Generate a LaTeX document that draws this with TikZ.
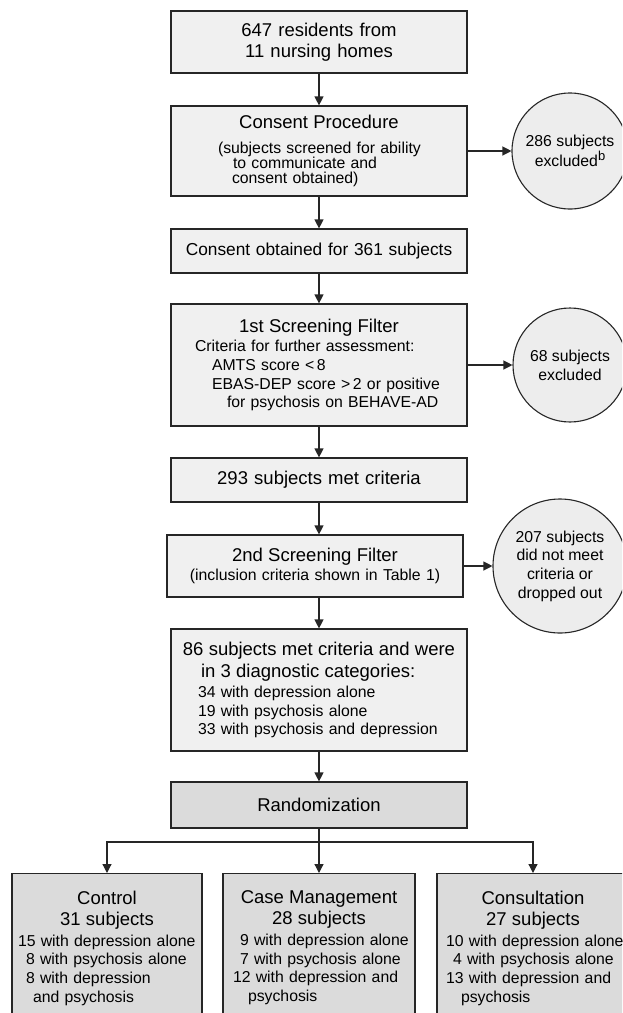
\documentclass[tikz,border=0pt]{standalone}
\usepackage{fontspec}
\setmainfont{Liberation Sans}
\usetikzlibrary{arrows.meta}

\newcommand{\bigtxt}{\fontsize{18.5}{22}\selectfont}
\newcommand{\smalltxt}{\fontsize{15.8}{18.7}\selectfont}
\newcommand{\midline}[1]{\makebox[\linewidth]{#1}}

\tikzset{
  flowbox/.style={draw=black!85, line width=1.2pt, fill=black!6, inner xsep=0pt, inner ysep=0pt, text width=#1, font=\smalltxt},
  flowbox/.default=296pt,
  darkbox/.style={flowbox=#1, fill=black!14},
  darkbox/.default=296pt,
  exclcircle/.style={circle, draw=black!85, line width=1.1pt, fill=black!7, inner sep=0pt, minimum size=#1, align=center, font=\smalltxt},
  link/.style={draw=black!85, line width=1.2pt},
  arr/.style={link, -{Triangle[length=9pt,width=9pt]}}
}

\begin{document}
\begin{tikzpicture}[x=1pt, y=-1pt]
    \clip (0,0) rectangle (622,1013);
    \node[flowbox, align=center, font=\fontsize{18.5}{21}\selectfont, minimum height=62pt] (homes) at (319,42) {647 residents from\\ 11 nursing homes};
    \node[flowbox, align=left, minimum height=90pt, font=\fontsize{15.8}{15.3}\selectfont] (consent) at (319,151) {\midline{\bigtxt Consent Procedure}\\[9.5pt]
      \hspace*{47pt}(subjects screened for ability\\
      \hspace*{62pt}to communicate and\\
      \hspace*{61pt}consent obtained)};
    \node[exclcircle=116pt, font=\fontsize{15.8}{16}\selectfont] (excl1) at (570,151) {286 subjects\\ excluded\raisebox{6pt}{\fontsize{13}{13}\selectfont b}};
    \node[flowbox, align=center, font=\fontsize{17.3}{20}\selectfont, minimum height=44pt] (obtained) at (319,251) {Consent obtained for 361 subjects};
    \node[flowbox, align=left, minimum height=122pt] (filter1) at (319,365) {\midline{\bigtxt 1st Screening Filter}\\[1pt]
      \hspace*{24pt}Criteria for further assessment:\\
      \hspace*{41pt}AMTS score <\,8\\
      \hspace*{41pt}EBAS-DEP score >\,2 or positive\\
      \hspace*{56pt}for psychosis on BEHAVE-AD};
    \node[exclcircle=114pt, font=\fontsize{15.8}{19}\selectfont] (excl2) at (570,365) {68 subjects\\ excluded};
    \node[flowbox, align=center, font=\bigtxt, minimum height=44pt] (met1) at (319,480) {293 subjects met criteria};
    \node[flowbox, align=center, minimum height=62pt] (filter2) at (315,566) {{\bigtxt 2nd Screening Filter}\\ (inclusion criteria shown in Table 1)};
    \node[exclcircle=134pt] (excl3) at (560,566) {207 subjects\\ did not meet\\ criteria or\\ dropped out};
    \node[flowbox, align=left, minimum height=122pt] (met2) at (319,690) {\midline{\bigtxt 86 subjects met criteria and were}\\[3.3pt]
      \hspace*{30pt}{\bigtxt in 3 diagnostic categories:}\\[1.3pt]
      \hspace*{27pt}34 with depression alone\\
      \hspace*{27pt}19 with psychosis alone\\
      \hspace*{27pt}33 with psychosis and depression};
    \node[darkbox, align=center, font=\bigtxt, minimum height=46pt] (random) at (319,805) {Randomization};
    \coordinate (split) at (319,842);
    \node[darkbox=190pt, anchor=north, align=left, inner ysep=17pt] (control) at (107,873) {\midline{\bigtxt Control}\\[2.3pt]
      \midline{\bigtxt 31 subjects}\\[2.3pt]
      \hspace*{6pt}15 with depression alone\\
      \hspace*{14pt}8 with psychosis alone\\
      \hspace*{14pt}8 with depression\\
      \hspace*{21pt}and psychosis\rule[-60pt]{0pt}{0pt}};
    \node[darkbox=192pt, anchor=north, align=left, inner ysep=17pt] (casemgmt) at (319,873) {\midline{\bigtxt Case Management}\\[2.3pt]
      \midline{\bigtxt 28 subjects}\\[2.3pt]
      \hspace*{17pt}9 with depression alone\\
      \hspace*{17pt}7 with psychosis alone\\
      \hspace*{10pt}12 with depression and\\
      \hspace*{25pt}psychosis\rule[-60pt]{0pt}{0pt}};
    \node[darkbox=192pt, anchor=north, align=left, inner ysep=17pt] (consult) at (533,873) {\midline{\bigtxt Consultation}\\[2.3pt]
      \midline{\bigtxt 27 subjects}\\[2.3pt]
      \hspace*{9pt}10 with depression alone\\
      \hspace*{16pt}4 with psychosis alone\\
      \hspace*{9pt}13 with depression and\\
      \hspace*{24pt}psychosis\rule[-60pt]{0pt}{0pt}};
    % connectors
    \draw[arr] (homes) -- (consent);
    \draw[arr] (consent) -- (excl1);
    \draw[arr] (consent) -- (obtained);
    \draw[arr] (obtained) -- (filter1);
    \draw[arr] (filter1) -- (excl2);
    \draw[arr] (filter1) -- (met1);
    \draw[arr] (met1.south) -- (met1.south |- filter2.north);
    \draw[arr] (filter2) -- (excl3);
    \draw[arr] (met2.north |- filter2.south) -- (met2);
    \draw[arr] (met2) -- (random);
    \draw[link] (random) -- (split);
    \draw[arr] (split) -| (control);
    \draw[arr] (split) -- (casemgmt);
    \draw[arr] (split) -| (consult);
  \end{tikzpicture}
\end{document}
